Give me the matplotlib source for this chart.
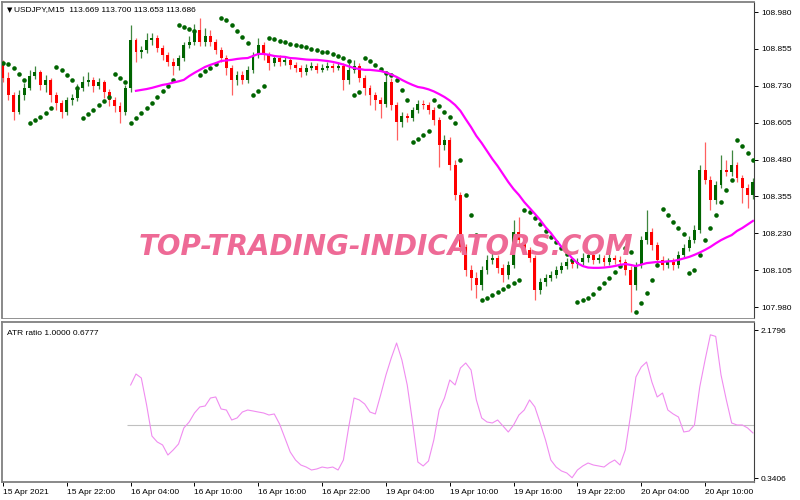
import numpy as np
import matplotlib.pyplot as plt

plt.rcParams['font.family'] = ['Liberation Sans', 'DejaVu Sans']

# USDJPY, one candle per 30 min (bars 0..141)
first_open = 108.801
close = [
    108.757, 108.699, 108.641, 108.699, 108.723, 108.763, 108.777, 108.733, 108.750, 108.699,
    108.672, 108.641, 108.682, 108.689, 108.723, 108.743, 108.750, 108.730, 108.743, 108.709,
    108.682, 108.662, 108.641, 108.723, 108.885, 108.845, 108.851, 108.885, 108.892, 108.858,
    108.835, 108.811, 108.797, 108.824, 108.868, 108.879, 108.919, 108.879, 108.899, 108.879,
    108.851, 108.824, 108.790, 108.750, 108.767, 108.750, 108.784, 108.835, 108.868, 108.835,
    108.807, 108.824, 108.811, 108.818, 108.801, 108.790, 108.777, 108.790, 108.797, 108.784,
    108.790, 108.797, 108.790, 108.797, 108.750, 108.784, 108.797, 108.757, 108.723, 108.699,
    108.682, 108.668, 108.743, 108.665, 108.607, 108.628, 108.621, 108.648, 108.668, 108.665,
    108.648, 108.614, 108.529, 108.546, 108.462, 108.360, 108.184, 108.106, 108.079, 108.055,
    108.106, 108.140, 108.146, 108.113, 108.089, 108.123, 108.234, 108.207, 108.174, 108.146,
    108.038, 108.065, 108.079, 108.089, 108.106, 108.119, 108.133, 108.126, 108.133, 108.146,
    108.157, 108.140, 108.146, 108.133, 108.146, 108.140, 108.133, 108.106, 108.055, 108.123,
    108.207, 108.234, 108.190, 108.140, 108.123, 108.133, 108.123, 108.157, 108.180, 108.207,
    108.241, 108.445, 108.411, 108.343, 108.394, 108.445, 108.438, 108.462, 108.418, 108.384,
    108.360, 108.404]
high = [
    108.818, 108.777, 108.709, 108.716, 108.740, 108.784, 108.797, 108.784, 108.767, 108.757,
    108.709, 108.682, 108.692, 108.702, 108.736, 108.763, 108.777, 108.760, 108.757, 108.750,
    108.719, 108.692, 108.675, 108.733, 108.936, 108.892, 108.865, 108.909, 108.909, 108.902,
    108.868, 108.845, 108.824, 108.835, 108.879, 108.899, 108.940, 108.960, 108.926, 108.919,
    108.889, 108.862, 108.835, 108.801, 108.780, 108.780, 108.797, 108.845, 108.892, 108.879,
    108.845, 108.835, 108.835, 108.831, 108.828, 108.811, 108.801, 108.804, 108.811, 108.807,
    108.804, 108.811, 108.807, 108.811, 108.807, 108.807, 108.818, 108.807, 108.767, 108.733,
    108.709, 108.692, 108.767, 108.757, 108.675, 108.641, 108.638, 108.658, 108.682, 108.682,
    108.675, 108.658, 108.624, 108.563, 108.557, 108.479, 108.370, 108.194, 108.123, 108.099,
    108.119, 108.157, 108.167, 108.157, 108.126, 108.136, 108.275, 108.285, 108.218, 108.184,
    108.157, 108.079, 108.092, 108.102, 108.119, 108.133, 108.146, 108.146, 108.146, 108.163,
    108.174, 108.170, 108.160, 108.157, 108.160, 108.157, 108.153, 108.143, 108.119, 108.133,
    108.221, 108.309, 108.248, 108.201, 108.153, 108.146, 108.146, 108.170, 108.194, 108.221,
    108.258, 108.462, 108.540, 108.424, 108.407, 108.496, 108.479, 108.513, 108.472, 108.428,
    108.397, 108.418]
low = [
    108.743, 108.682, 108.614, 108.635, 108.682, 108.716, 108.753, 108.716, 108.709, 108.675,
    108.648, 108.621, 108.631, 108.665, 108.679, 108.713, 108.730, 108.709, 108.719, 108.689,
    108.662, 108.641, 108.604, 108.631, 108.709, 108.811, 108.824, 108.841, 108.868, 108.845,
    108.818, 108.797, 108.767, 108.784, 108.814, 108.858, 108.868, 108.865, 108.865, 108.865,
    108.838, 108.811, 108.767, 108.699, 108.733, 108.736, 108.740, 108.774, 108.824, 108.818,
    108.784, 108.797, 108.797, 108.801, 108.787, 108.777, 108.760, 108.767, 108.784, 108.774,
    108.777, 108.784, 108.777, 108.784, 108.716, 108.736, 108.774, 108.743, 108.699, 108.665,
    108.648, 108.621, 108.658, 108.648, 108.546, 108.590, 108.607, 108.611, 108.638, 108.651,
    108.635, 108.597, 108.455, 108.513, 108.445, 108.343, 108.167, 108.085, 108.038, 108.011,
    108.038, 108.092, 108.126, 108.096, 108.065, 108.075, 108.113, 108.190, 108.160, 108.133,
    108.004, 108.024, 108.051, 108.068, 108.079, 108.096, 108.109, 108.113, 108.113, 108.123,
    108.133, 108.126, 108.129, 108.119, 108.123, 108.126, 108.119, 108.089, 107.963, 108.038,
    108.113, 108.194, 108.174, 108.123, 108.106, 108.113, 108.106, 108.113, 108.146, 108.170,
    108.197, 108.231, 108.397, 108.309, 108.329, 108.384, 108.424, 108.424, 108.404, 108.333,
    108.316, 108.346]

# parabolic SAR, one dot per bar
sar = [
    108.807, 108.804, 108.790, 108.770, 108.750, 108.604, 108.614, 108.624, 108.638, 108.655,
    108.794, 108.784, 108.767, 108.750, 108.723, 108.621, 108.635, 108.648, 108.665, 108.679,
    108.692, 108.770, 108.757, 108.743, 108.604, 108.621, 108.638, 108.655, 108.672, 108.692,
    108.713, 108.730, 108.750, 108.936, 108.929, 108.923, 108.916, 108.767, 108.780, 108.790,
    108.804, 108.960, 108.953, 108.936, 108.916, 108.896, 108.875, 108.699, 108.713, 108.730,
    108.892, 108.887, 108.882, 108.877, 108.872, 108.868, 108.865, 108.860, 108.855, 108.851,
    108.846, 108.843, 108.838, 108.831, 108.824, 108.814, 108.699, 108.709, 108.824, 108.814,
    108.801, 108.787, 108.774, 108.767, 108.750, 108.716, 108.682, 108.540, 108.550, 108.563,
    108.577, 108.682, 108.662, 108.641, 108.624, 108.604, 108.479, 108.360, 108.292, 108.224,
    108.004, 108.011, 108.021, 108.031, 108.041, 108.051, 108.062, 108.072, 108.309, 108.302,
    108.282, 108.262, 108.238, 108.218, 108.201, 108.180, 108.160, 108.140, 107.997, 108.004,
    108.011, 108.024, 108.045, 108.062, 108.079, 108.099, 108.119, 108.180, 108.167, 107.963,
    107.994, 108.028, 108.072, 108.123, 108.313, 108.292, 108.268, 108.248, 108.228, 108.096,
    108.106, 108.157, 108.207, 108.248, 108.292, 108.336, 108.377, 108.411, 108.546, 108.526,
    108.502, 108.479]

# moving average, starts at bar 25
MA_START = 25
ma = [
    108.713, 108.716, 108.719, 108.723, 108.728, 108.733, 108.736, 108.741, 108.745, 108.750,
    108.763, 108.774, 108.784, 108.794, 108.801, 108.807, 108.814, 108.816, 108.818, 108.821,
    108.823, 108.824, 108.831, 108.838, 108.838, 108.835, 108.831, 108.829, 108.828, 108.824,
    108.823, 108.821, 108.819, 108.818, 108.818, 108.816, 108.814, 108.811, 108.807, 108.802,
    108.796, 108.790, 108.787, 108.784, 108.784, 108.782, 108.780, 108.775, 108.768, 108.760,
    108.750, 108.741, 108.733, 108.726, 108.723, 108.718, 108.711, 108.702, 108.692, 108.680,
    108.665, 108.645, 108.617, 108.590, 108.560, 108.536, 108.509, 108.482, 108.458, 108.431,
    108.404, 108.380, 108.360, 108.336, 108.316, 108.296, 108.275, 108.251, 108.231, 108.207,
    108.184, 108.167, 108.146, 108.129, 108.119, 108.114, 108.113, 108.113, 108.114, 108.116,
    108.119, 108.123, 108.126, 108.123, 108.119, 108.124, 108.129, 108.131, 108.133, 108.133,
    108.135, 108.136, 108.140, 108.145, 108.150, 108.157, 108.165, 108.174, 108.184, 108.196,
    108.207, 108.216, 108.224, 108.238, 108.248, 108.260, 108.272]

# ATR ratio, starts at bar 24
ATR_START = 24
atr = [
    1.497, 1.633, 1.584, 1.248, 0.863, 0.789, 0.752, 0.627, 0.690, 0.764,
    0.963, 1.037, 1.149, 1.224, 1.236, 1.335, 1.348, 1.199, 1.186, 1.062,
    1.087, 1.161, 1.186, 1.174, 1.161, 1.149, 1.124, 1.137, 1.012, 0.839,
    0.665, 0.565, 0.503, 0.478, 0.441, 0.454, 0.478, 0.466, 0.478, 0.441,
    0.565, 0.975, 1.335, 1.311, 1.261, 1.161, 1.137, 1.373, 1.621, 1.832,
    2.018, 1.807, 1.497, 1.037, 0.540, 0.491, 0.553, 0.814, 1.186, 1.335,
    1.559, 1.497, 1.708, 1.770, 1.683, 1.311, 1.087, 1.037, 1.025, 1.062,
    0.988, 0.913, 1.000, 1.124, 1.186, 1.311, 1.224, 1.025, 0.814, 0.565,
    0.478, 0.429, 0.404, 0.345, 0.441, 0.491, 0.528, 0.503, 0.491, 0.478,
    0.528, 0.565, 0.503, 0.690, 1.124, 1.596, 1.720, 1.782, 1.534, 1.348,
    1.397, 1.186, 1.137, 1.099, 0.913, 0.925, 1.000, 1.472, 1.807, 2.120,
    2.100, 1.621, 1.311, 1.025, 1.000, 1.000, 0.963, 0.901]
ATR_LEVEL = 1.0

price_ticks = [108.980, 108.855, 108.730, 108.605, 108.480, 108.355, 108.230, 108.105, 107.980]
atr_ticks = [2.1796, 0.3406]
time_labels = ['15 Apr 2021', '15 Apr 22:00', '16 Apr 04:00', '16 Apr 10:00', '16 Apr 16:00',
               '16 Apr 22:00', '19 Apr 04:00', '19 Apr 10:00', '19 Apr 16:00', '19 Apr 22:00',
               '20 Apr 04:00', '20 Apr 10:00']
time_ticks = [12 * k for k in range(len(time_labels))]

BULL = '#006400'
BEAR = '#ff0000'

n = len(close)
x = np.arange(n)
c = np.array(close)
o = np.array([first_open] + close[:-1])
h = np.array(high)
l = np.array(low)
up = c >= o

fig = plt.figure(figsize=(8, 5), dpi=100)
ax = fig.add_axes([0.0025, 0.364, 0.94, 0.632])
ax2 = fig.add_axes([0.0025, 0.036, 0.94, 0.32])

# candles
wick_cols = np.where(up, '#3f873f', '#ff6060')
body_cols = np.where(up, BULL, BEAR)
ax.vlines(x, l, h, colors=wick_cols, lw=0.9, zorder=3)
body = np.maximum(np.abs(c - o), 0.002)
ax.bar(x, body, bottom=np.minimum(o, c), width=0.55, color=body_cols, lw=0, zorder=4)

ax.plot(x, sar, 'o', color='#006400', ms=3.3, mew=0, zorder=5)
ax.plot(x[MA_START:], ma, color='#ff00ff', lw=1.6, zorder=6)

fig.text(386 / 800, 1 - 247 / 500, 'TOP-TRADING-INDICATORS.COM', ha='center', va='center',
         fontsize=20, fontweight='bold', style='italic', color='#ee6a96',
         family=['DejaVu Sans'], zorder=1)

ax.set_xlim(-0.19, 141.2)
ax.set_ylim(107.943, 109.014)
ax.set_xticks([])
ax.yaxis.tick_right()
ax.set_yticks(price_ticks)
ax.set_yticklabels([f'{v:.3f}' for v in price_ticks])
ax.tick_params(axis='y', length=3, width=0.7, labelsize=6, pad=2, colors='black')
ax.patch.set_alpha(0)

ax.text(0.006, 0.975, '\u25bc', transform=ax.transAxes, fontsize=5, va='center',
        family=['DejaVu Sans'])
ax.text(0.016, 0.975, 'USDJPY,M15  113.669 113.700 113.653 113.686', transform=ax.transAxes,
        fontsize=6, va='center')

# ATR ratio panel
ax2.hlines(ATR_LEVEL, ATR_START - 0.6, 141.5, color='#c0c0c0', lw=0.8)
ax2.plot(x[ATR_START:], atr, color='#f08cf0', lw=0.8)
ax2.set_xlim(-0.19, 141.2)
ax2.set_ylim(0.292, 2.279)
ax2.yaxis.tick_right()
ax2.set_yticks(atr_ticks)
ax2.set_yticklabels(['2.1796', '0.3406'])
ax2.tick_params(axis='y', length=3, width=0.7, labelsize=6, pad=2)
ax2.set_xticks(time_ticks)
ax2.set_xticklabels(time_labels)
for lab in ax2.get_xticklabels():
    lab.set_horizontalalignment('left')
ax2.tick_params(axis='x', length=3, width=0.7, labelsize=6, pad=2)
ax2.text(0.006, 0.93, 'ATR ratio 1.0000 0.6777', transform=ax2.transAxes, fontsize=6,
         va='center')

for a in (ax, ax2):
    for s in ('left', 'top', 'bottom'):
        a.spines[s].set_color('#808080')
        a.spines[s].set_linewidth(1.3)
    a.spines['right'].set_color('#404040')
    a.spines['right'].set_linewidth(0.8)
ax.spines['bottom'].set_linewidth(0.6)

fig.savefig('out.png', dpi=100)
